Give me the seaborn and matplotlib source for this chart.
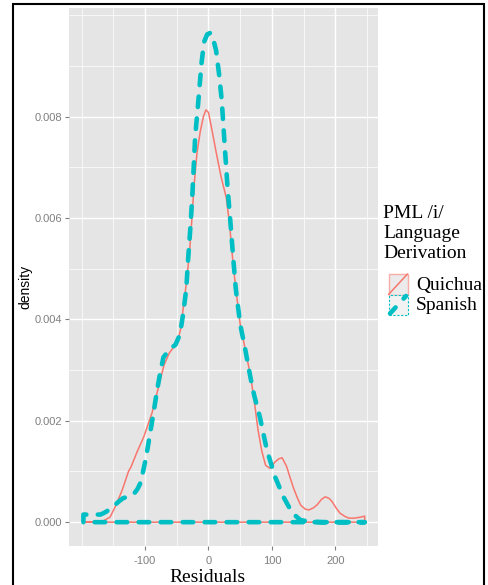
import numpy as np
import pandas as pd
import matplotlib
matplotlib.use("Agg")
import matplotlib.pyplot as plt
import seaborn as sns
from matplotlib.patches import Rectangle
from matplotlib.lines import Line2D

# ---------------- data ----------------
categories = ["Quichua", "Spanish"]

quichua_x = [-197, -180, -165, -155, -147, -136, -126, -122, -112, -102, -89, -76,
             -70, -62, -55, -49, -44, -40, -35, -30, -26, -23, -18, -13, -8, -4,
             0, 6, 12, 20, 28, 33, 38, 43, 50, 58, 66, 72, 78, 84, 90, 97, 105,
             111, 116, 123, 128, 134, 140, 145, 152, 158, 165, 171, 178, 184, 190,
             195, 201, 207, 214, 221, 230, 240, 246]
quichua_y = [0.00000, 0.00001, 0.00003, 0.00010, 0.00030, 0.00063, 0.00100, 0.00109,
             0.00140, 0.00168, 0.00215, 0.00280,
             0.00310, 0.00333, 0.00345, 0.00355, 0.00380, 0.00420, 0.00470, 0.00530,
             0.00600, 0.00660, 0.00730, 0.00770, 0.00800, 0.00813,
             0.00808, 0.00770, 0.00730, 0.00680, 0.00640, 0.00590, 0.00520, 0.00460,
             0.00390, 0.00340, 0.00290, 0.00240, 0.00182, 0.00140, 0.00112, 0.00106,
             0.00119, 0.00125, 0.00127, 0.00110, 0.00090, 0.00067, 0.00048, 0.00034,
             0.00026, 0.00024, 0.00028, 0.00034, 0.00045, 0.00050, 0.00047, 0.00040,
             0.00028, 0.00018, 0.00012, 0.00008, 0.00008, 0.00010, 0.00012]

spanish_x = [-197, -185, -170, -162, -155, -148, -142, -135, -128, -118, -112, -108,
             -103, -98, -92, -86, -81, -76, -71, -62, -52, -45, -40, -35, -32, -28,
             -25, -21, -16, -11, -7, -2, 3, 8, 12, 17, 21, 25, 30, 34, 39, 43, 50,
             58, 66, 72, 81, 92, 105, 118, 132, 145, 160, 180, 246]
spanish_y = [0.00015, 0.00015, 0.00015, 0.00020, 0.00026, 0.00033, 0.00040, 0.00047,
             0.00050, 0.00055, 0.00065, 0.00075,
             0.00100, 0.00130, 0.00175, 0.00220, 0.00260, 0.00295, 0.00325, 0.00340,
             0.00350, 0.00370, 0.00410, 0.00460, 0.00520, 0.00590,
             0.00655, 0.00760, 0.00830, 0.00905, 0.00947, 0.00962, 0.00965, 0.00950,
             0.00930, 0.00880, 0.00830, 0.00753, 0.00660, 0.00600, 0.00520, 0.00460,
             0.00390, 0.00340, 0.00286, 0.00250, 0.00207, 0.00142, 0.00089, 0.00050,
             0.00018, 0.00004, 0.00001, 0.00000, 0.00000]

x_ticks = [-100, 0, 100, 200]
y_ticks = [0.000, 0.002, 0.004, 0.006, 0.008]
y_tick_labels = ["0.000", "0.002", "0.004", "0.006", "0.008"]
x_minor = [-200, -150, -50, 50, 150, 250]
y_minor = [0.001, 0.003, 0.005, 0.007, 0.009, 0.010]

colors = {"Quichua": "#F8766D", "Spanish": "#00BFC4"}

# ---------------- closed density outlines (as geom_density draws them) ----------------
def closed(xs, ys):
    cx = [xs[0]] + list(xs) + [xs[-1], xs[0]]
    cy = [0.0] + list(ys) + [0.0, 0.0]
    return cx, cy

frames = []
for name, xs, ys in [("Quichua", quichua_x, quichua_y), ("Spanish", spanish_x, spanish_y)]:
    cx, cy = closed(xs, ys)
    frames.append(pd.DataFrame({"Residuals": cx, "density": cy, "Derivation": name,
                                "order": np.arange(len(cx))}))
df = pd.concat(frames, ignore_index=True)

# ---------------- figure ----------------
W, H, DPI = 488, 585, 100
sns.set_style("darkgrid")
plt.rcParams["font.family"] = ["Liberation Sans", "DejaVu Sans"]
fig = plt.figure(figsize=(W / DPI, H / DPI), dpi=DPI)

def fx(px):
    return px / W

def fy(py):
    return 1 - py / H

left, right, top, bottom = 69, 378, 8, 546
ax = fig.add_axes([fx(left), fy(bottom), fx(right - left), (bottom - top) / H])
ax.set_facecolor("#E5E5E5")

sns.lineplot(data=df[df.Derivation == "Quichua"], x="Residuals", y="density",
             sort=False, estimator=None, color=colors["Quichua"], linewidth=1.1,
             legend=False, ax=ax, zorder=3)
sns.lineplot(data=df[df.Derivation == "Spanish"], x="Residuals", y="density",
             sort=False, estimator=None, color=colors["Spanish"], linewidth=3.3,
             legend=False, ax=ax, zorder=4)
ln = ax.lines[-1]
ln.set_dashes((2.3, 2.5))
ln.set_dash_capstyle("round")
ln.set_solid_capstyle("round")

ax.set_xlim(-219.7, 267)
ax.set_ylim(-0.00047, 0.01014)

ax.set_xticks(x_ticks)
ax.set_xticklabels([str(v) for v in x_ticks])
ax.set_yticks(y_ticks)
ax.set_yticklabels(y_tick_labels)
ax.set_xticks(x_minor, minor=True)
ax.set_yticks(y_minor, minor=True)

ax.grid(which="major", color="white", linewidth=1.0)
ax.grid(which="minor", color="white", linewidth=0.5)
ax.set_axisbelow(True)
for s in ax.spines.values():
    s.set_visible(False)

ax.tick_params(axis="both", which="major", colors="#7F7F7F", labelsize=8,
               length=3, width=0.8, left=True, bottom=True)
ax.tick_params(axis="x", which="major", pad=4)
ax.tick_params(axis="y", which="major", pad=2)
ax.tick_params(axis="both", which="minor", length=0)
for lab in ax.get_xticklabels() + ax.get_yticklabels():
    lab.set_color("#7F7F7F")

ax.set_xlabel("")
ax.set_ylabel("")

# axis titles
fig.text(fx(207), fy(582), "Residuals", family=["Liberation Serif", "DejaVu Serif"],
         fontsize=14, ha="center", va="baseline", color="black")
fig.text(fx(25), fy(287), "density", fontsize=10, rotation=90,
         ha="center", va="center", color="black")

# legend (drawn manually, ggplot style)
serif = ["Liberation Serif", "DejaVu Serif"]
for i, line in enumerate(["PML /i/", "Language", "Derivation"]):
    fig.text(fx(383), fy(218 + 20 * i), line, family=serif, fontsize=14,
             ha="left", va="baseline", color="black")

key_x0, key_w, key_h = 388.5, 19, 20.5
key_tops = [274, 294.5]
for name, ktop, lab_base in zip(categories, key_tops, [290, 310.5]):
    if name == "Quichua":
        rect = Rectangle((fx(key_x0), fy(ktop + key_h)), key_w / W, key_h / H,
                         transform=fig.transFigure, facecolor="#EBEBEB",
                         edgecolor="#F9ADA7", linewidth=1.0)
        fig.add_artist(rect)
        fig.add_artist(Line2D([fx(key_x0), fx(key_x0 + key_w)],
                              [fy(ktop + key_h), fy(ktop)],
                              transform=fig.transFigure, color=colors[name],
                              linewidth=1.1))
    else:
        rect = Rectangle((fx(key_x0), fy(ktop + key_h)), key_w / W, key_h / H,
                         transform=fig.transFigure, facecolor="#F2F2F2",
                         edgecolor=colors[name], linewidth=0.8, linestyle=(0, (2, 1.5)))
        fig.add_artist(rect)
        dl = Line2D([fx(key_x0 + 1.5), fx(key_x0 + key_w - 1.5)],
                    [fy(ktop + key_h - 1.5), fy(ktop + 1.5)],
                    transform=fig.transFigure, color=colors[name], linewidth=3.3,
                    dash_capstyle="round")
        dl.set_dashes((1.8, 2.6))
        fig.add_artist(dl)
    fig.text(fx(416), fy(lab_base), name, family=serif, fontsize=14,
             ha="left", va="baseline", color="black")

# outer frame
fig.add_artist(Rectangle((fx(12.8), -0.05), fx(484.2 - 12.8), fy(4.3) + 0.05,
                         transform=fig.transFigure, fill=False,
                         edgecolor="black", linewidth=1.5, clip_on=False))

fig.savefig("out.png", dpi=DPI)
